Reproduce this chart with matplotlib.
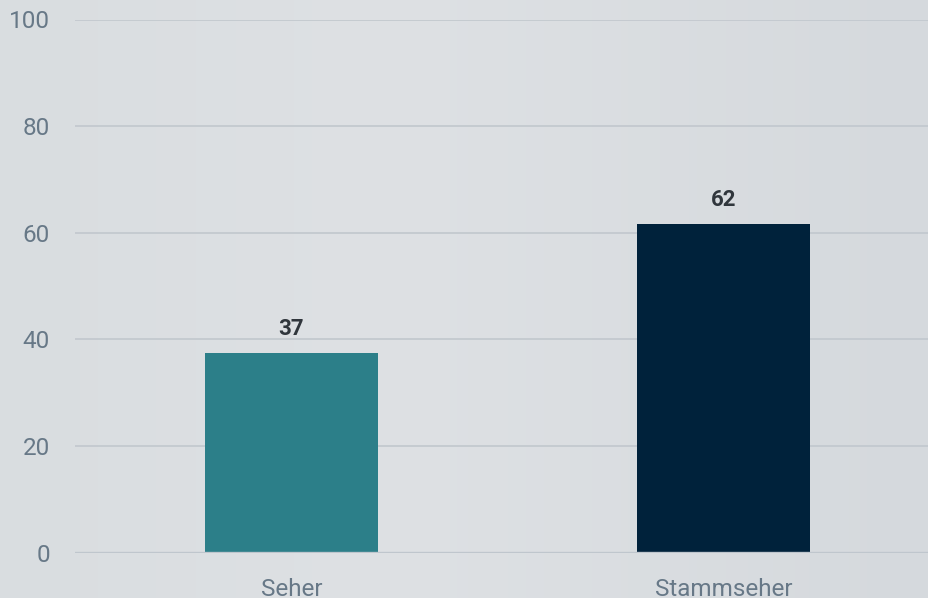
import matplotlib
matplotlib.use("Agg")
import matplotlib.pyplot as plt
import numpy as np
from matplotlib.colors import LinearSegmentedColormap

categories = ["Seher", "Stammseher"]
values = [37.4, 61.6]
labels = ["37", "62"]
colors = ["#2c7f89", "#00223b"]
yticks = [0, 20, 40, 60, 80, 100]

W, H = 929, 598
fig = plt.figure(figsize=(W / 100, H / 100), dpi=100)

# background gradient
bg = fig.add_axes([0, 0, 1, 1], zorder=-10)
cmap = LinearSegmentedColormap.from_list(
    "bg", [(0, "#d9dde0"), (0.42, "#dee1e4"), (1, "#d5d9dd")])
bg.imshow(np.linspace(0, 1, 256)[None, :], aspect="auto", cmap=cmap,
          extent=[0, 1, 0, 1])
bg.axis("off")

left = 75.5 / W
right = 939.5 / W
bottom = (H - 552.5) / H
top = (H - 19.5) / H
ax = fig.add_axes([left, bottom, right - left, top - bottom])
ax.set_facecolor("none")

x = np.arange(len(categories))
ax.bar(x, values, width=0.4, color=colors, zorder=3)
ax.set_xlim(-0.5, 1.5)
ax.set_ylim(0, 100)
ax.set_yticks(yticks)
ax.set_yticklabels([str(t) for t in yticks], family="Roboto", fontsize=17.5,
                   color="#677887")
ax.set_xticks(x)
ax.set_xticklabels(categories, family="Roboto", fontsize=17.5, color="#677887")
ax.tick_params(axis="y", length=0, pad=18.5)
ax.tick_params(axis="x", length=0, pad=18)

for t in yticks[1:]:
    ax.axhline(t, color="#c3c9cf", lw=1.3, zorder=1)
ax.axhline(0, color="#bfc6cd", lw=2.4, zorder=4)

for s in ax.spines.values():
    s.set_visible(False)

for xi, v, lab in zip(x, values, labels):
    ax.annotate(lab, (xi, v), xytext=(0, 13), textcoords="offset pixels",
                ha="center", va="bottom", fontsize=16, fontweight="bold",
                family="Roboto", color="#30363c")

fig.savefig("out.png", dpi=100)
